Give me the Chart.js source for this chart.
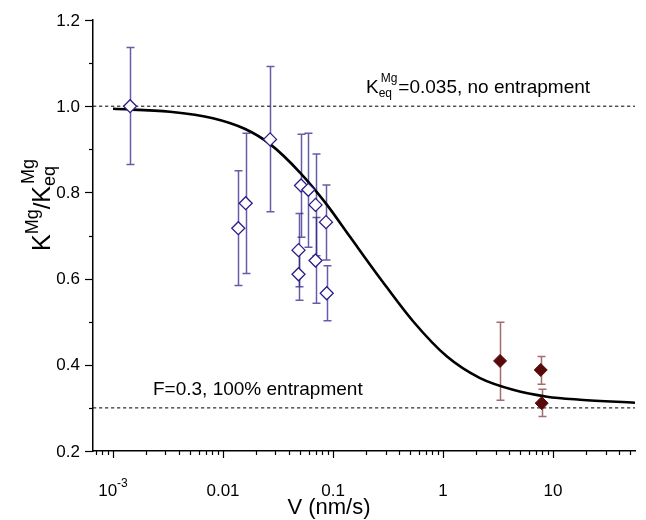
<!DOCTYPE html>
<html><head><meta charset="utf-8">
<script src="https://cdn.jsdelivr.net/npm/chart.js@4"></script>
<style>html,body{margin:0;padding:0;background:#fff;}canvas{display:block;}</style>
</head><body>
<canvas id="c" width="646" height="520"></canvas>
<script>
// ---- data ----
const openV    = [0.00143, 0.01377, 0.01608, 0.02676, 0.04857, 0.04857, 0.05117, 0.05963, 0.06934, 0.06934, 0.0863, 0.0877];
const openK    = [1.000, 0.717, 0.775, 0.923, 0.666, 0.610, 0.816, 0.806, 0.771, 0.642, 0.731, 0.566];
const openHi   = [1.136, 0.850, 0.937, 1.092, 0.751, 0.670, 0.935, 0.937, 0.889, 0.742, 0.817, 0.630];
const openLo   = [0.865, 0.584, 0.612, 0.755, 0.581, 0.550, 0.696, 0.673, 0.653, 0.543, 0.643, 0.502];

const fillV    = [3.30, 7.73, 7.89];
const fillK    = [0.409, 0.388, 0.311];
const fillHi   = [0.499, 0.419, 0.343];
const fillLo   = [0.318, 0.355, 0.280];

const curveV   = [0.001, 0.0033, 0.0081, 0.0159, 0.0268, 0.0501, 0.0864, 0.1427, 0.2675, 0.534, 1.087, 2.17, 4.33, 8.82, 17.6, 55.6];
const curveK   = [0.994, 0.987, 0.972, 0.947, 0.912, 0.846, 0.774, 0.697, 0.601, 0.501, 0.419, 0.369, 0.342, 0.326, 0.319, 0.312];

const refNoEntrap = 1.0;
const refFull     = 0.3;

const xMin = 6.58e-4, xMax = 55.6;
const yMin = 0.2, yMax = 1.2;

const xTickValues = [0.001, 0.01, 0.1, 1, 10];
const xTickBase   = ['10', '0.01', '0.1', '1', '10'];
const xTickSup    = ['-3', '', '', '', ''];
const yTickValues = [0.2, 0.4, 0.6, 0.8, 1.0, 1.2];
const yTickLabels = ['0.2', '0.4', '0.6', '0.8', '1.0', '1.2'];
const yMinorTicks = [0.3, 0.5, 0.7, 0.9, 1.1];

// ---- styling ----
const FONT = '"Liberation Sans", Arial, Helvetica, sans-serif';
const openStroke = '#2a1d8a';
const openBar = 'rgba(42,30,135,0.72)';
const fillColor = '#580a0a';
const fillBar = 'rgba(115,30,30,0.65)';

const zip = (xs, ys) => xs.map((x, i) => ({x: x, y: ys[i]}));

const decorPlugin = {
  id: 'decor',
  beforeDatasetsDraw(chart) {
    const ctx = chart.ctx, xs = chart.scales.x, ys = chart.scales.y;
    const drawBars = (V, hi, lo, color) => {
      ctx.save();
      ctx.strokeStyle = color;
      ctx.lineWidth = 1.5;
      V.forEach((v, i) => {
        const px = Math.round(xs.getPixelForValue(v)) + 0.5;
        const pt = ys.getPixelForValue(hi[i]);
        const pb = ys.getPixelForValue(lo[i]);
        ctx.beginPath();
        ctx.moveTo(px, pt); ctx.lineTo(px, pb);
        ctx.moveTo(px - 4, pt); ctx.lineTo(px + 4, pt);
        ctx.moveTo(px - 4, pb); ctx.lineTo(px + 4, pb);
        ctx.stroke();
      });
      ctx.restore();
    };
    drawBars(openV, openHi, openLo, openBar);
    drawBars(fillV, fillHi, fillLo, fillBar);
  },
  afterDraw(chart) {
    const ctx = chart.ctx, xs = chart.scales.x, ys = chart.scales.y;
    const a = chart.chartArea;
    ctx.save();
    ctx.strokeStyle = '#000';
    ctx.lineWidth = 1.2;
    // x ticks (log decades + minor)
    for (let d = -4; d <= 2; d++) {
      for (let m = 1; m <= 9; m++) {
        const v = m * Math.pow(10, d);
        if (v < xMin || v > xMax) continue;
        const px = Math.round(xs.getPixelForValue(v)) + 0.5;
        ctx.beginPath();
        ctx.moveTo(px, a.bottom);
        ctx.lineTo(px, a.bottom + (m === 1 ? 7 : 4));
        ctx.stroke();
      }
    }
    // y ticks
    yTickValues.forEach(v => {
      const py = Math.round(ys.getPixelForValue(v)) + 0.5;
      ctx.beginPath(); ctx.moveTo(a.left, py); ctx.lineTo(a.left - 8, py); ctx.stroke();
    });
    yMinorTicks.forEach(v => {
      const py = Math.round(ys.getPixelForValue(v)) + 0.5;
      ctx.beginPath(); ctx.moveTo(a.left, py); ctx.lineTo(a.left - 4, py); ctx.stroke();
    });
    // tick labels
    ctx.fillStyle = '#000';
    ctx.font = '17px ' + FONT;
    ctx.textAlign = 'right';
    ctx.textBaseline = 'middle';
    yTickValues.forEach((v, i) => {
      ctx.fillText(yTickLabels[i], a.left - 13, ys.getPixelForValue(v) + 1);
    });
    ctx.textBaseline = 'alphabetic';
    ctx.textAlign = 'left';
    xTickValues.forEach((v, i) => {
      const px = xs.getPixelForValue(v);
      ctx.font = '17px ' + FONT;
      const wb = ctx.measureText(xTickBase[i]).width;
      ctx.font = '12px ' + FONT;
      const ws = xTickSup[i] ? ctx.measureText(xTickSup[i]).width : 0;
      const x0 = px - (wb + ws) / 2;
      ctx.font = '17px ' + FONT;
      ctx.fillText(xTickBase[i], x0, 496);
      if (xTickSup[i]) { ctx.font = '12px ' + FONT; ctx.fillText(xTickSup[i], x0 + wb, 487); }
    });
    // x title
    ctx.font = '22px ' + FONT;
    ctx.textAlign = 'center';
    ctx.fillText('V (nm/s)', 329, 514);

    // y title (rotated)
    ctx.save();
    ctx.translate(50, 251);
    ctx.rotate(-Math.PI / 2);
    ctx.textAlign = 'left';
    let x = 0;
    ctx.font = '25px ' + FONT; ctx.fillText('K', x, 0); x += ctx.measureText('K').width;
    ctx.font = '18px ' + FONT; ctx.fillText('Mg', x, -12); x += ctx.measureText('Mg').width;
    ctx.font = '24px ' + FONT; ctx.fillText('/', x, 0); x += ctx.measureText('/').width;
    ctx.font = '25px ' + FONT; ctx.fillText('K', x, 0); x += ctx.measureText('K').width;
    ctx.font = '18px ' + FONT; ctx.fillText('eq', x, 5); ctx.fillText('Mg', x + 2, -16);
    ctx.restore();

    // annotations
    let ax = 366;
    ctx.textAlign = 'left';
    ctx.font = '19px ' + FONT; ctx.fillText('K', ax, 93); ax += ctx.measureText('K').width;
    ctx.font = '12px ' + FONT; ctx.fillText('eq', ax, 97);
    const we = ctx.measureText('eq').width;
    ctx.fillText('Mg', ax + 2, 82);
    const wm = ctx.measureText('Mg').width + 2;
    ax += Math.max(we, wm) + 1;
    ctx.font = '19px ' + FONT; ctx.fillText('=0.035, no entrapment', ax, 93);
    ctx.fillText('F=0.3, 100% entrapment', 153, 395);
    ctx.restore();
  }
};

new Chart(document.getElementById('c'), {
  type: 'scatter',
  data: {
    datasets: [
      { label: 'fill', data: zip(fillV, fillK), pointStyle: 'rectRot', pointRadius: 6.5,
        backgroundColor: fillColor, borderColor: fillColor, borderWidth: 1, order: 0 },
      { label: 'open', data: zip(openV, openK), pointStyle: 'rectRot', pointRadius: 6.5,
        backgroundColor: '#fff', borderColor: openStroke, borderWidth: 1.3, order: 0 },
      { label: 'model', type: 'line', data: zip(curveV, curveK), borderColor: '#000', borderWidth: 2.6,
        pointRadius: 0, cubicInterpolationMode: 'monotone', fill: false, order: 1 },
      { label: 'ref1', type: 'line', data: [{x: xMin, y: refNoEntrap}, {x: xMax, y: refNoEntrap}],
        borderColor: '#000', borderWidth: 1, borderDash: [3.3, 2.7], pointRadius: 0, order: 2 },
      { label: 'ref2', type: 'line', data: [{x: xMin, y: refFull}, {x: xMax, y: refFull}],
        borderColor: '#000', borderWidth: 1, borderDash: [3.3, 2.7], pointRadius: 0, order: 2 }
    ]
  },
  options: {
    responsive: false,
    animation: false,
    devicePixelRatio: 1,
    layout: { padding: { top: 20, right: 11, left: 0, bottom: 0 } },
    plugins: { legend: { display: false }, tooltip: { enabled: false } },
    scales: {
      x: { type: 'logarithmic', min: xMin, max: xMax,
           grid: { display: false, drawTicks: false },
           ticks: { display: false },
           border: { display: true, color: '#000', width: 1.5 },
           afterFit(s) { s.height = 69; } },
      y: { type: 'linear', min: yMin, max: yMax,
           grid: { display: false, drawTicks: false },
           ticks: { display: false },
           border: { display: true, color: '#000', width: 1.5 },
           afterFit(s) { s.width = 93; } }
    }
  },
  plugins: [decorPlugin]
});
</script>
</body></html>
